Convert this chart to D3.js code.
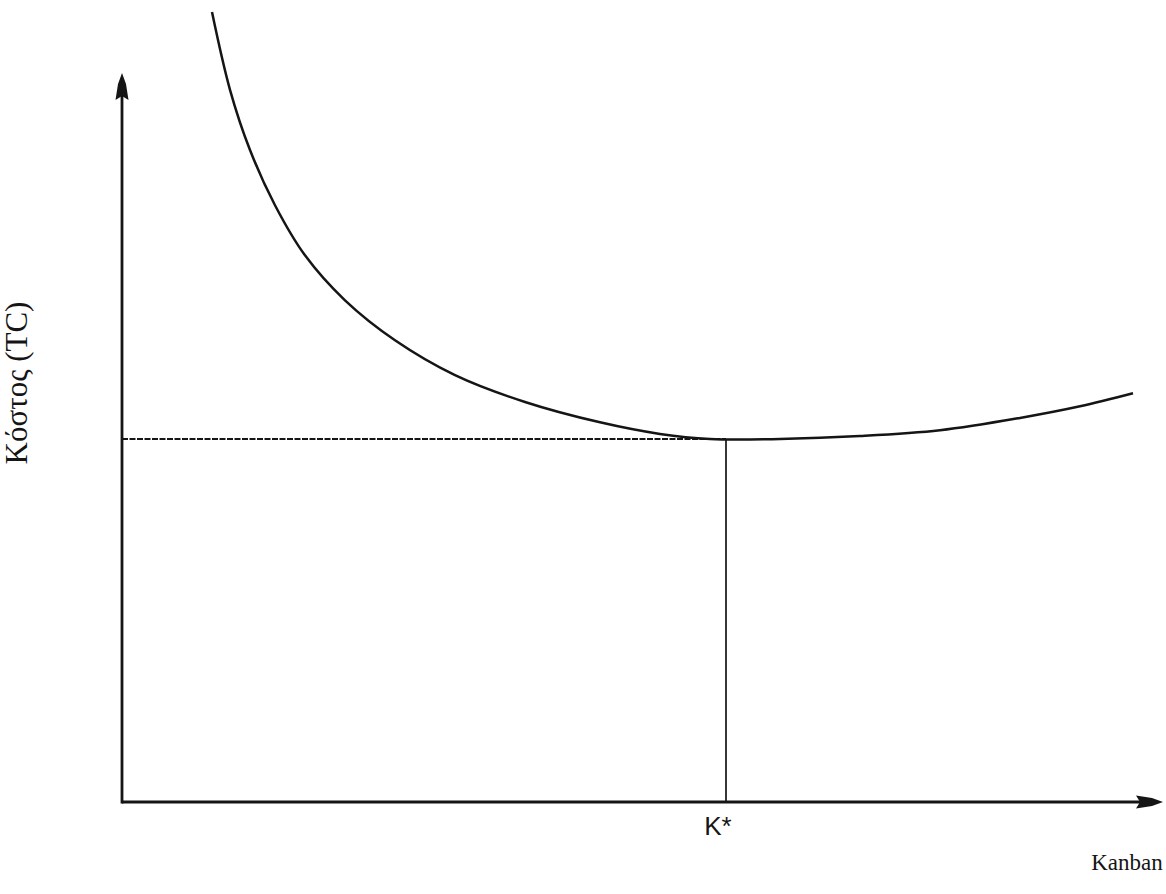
<!DOCTYPE html>
<html>
<head>
<meta charset="utf-8">
<script src="https://cdn.jsdelivr.net/npm/d3@7"></script>
<style>
  body { margin: 0; background: #fff; }
  svg { display: block; }
</style>
</head>
<body>
<svg id="chart" width="1166" height="894"></svg>
<script>
// curve points (kanban, cost)
var kanban = [9.0, 10.8, 12.8, 15.3, 18.3, 22.3, 27.3, 33.3, 40.3, 47.8, 53.8, 58.8, 65.8, 73.8, 81.8, 89.8, 95.8, 101.1]
var cost = [108.8, 98.1, 89.8, 82.2, 75.3, 69.1, 63.6, 58.8, 55.1, 52.3, 50.7, 50.0, 50.0, 50.4, 51.2, 52.9, 54.5, 56.3]
var kStar = 60.4
var minCost = 50

var svg = d3.select("#chart")
var ink = "#151515"

var x = d3.scaleLinear().domain([0, 100]).range([122, 1122])
var y = d3.scaleLinear().domain([0, 100]).range([802, 76])

var xEnd = 1163, yEnd = 73

// dashed guide at the minimum cost
svg.append("line")
  .attr("x1", x(0)).attr("x2", x(kStar))
  .attr("y1", y(minCost)).attr("y2", y(minCost))
  .attr("stroke", ink).attr("stroke-width", 2)
  .attr("stroke-dasharray", "6,1.5")

// vertical at K*
svg.append("line")
  .attr("x1", x(kStar)).attr("x2", x(kStar))
  .attr("y1", y(minCost)).attr("y2", y(0))
  .attr("stroke", ink).attr("stroke-width", 1.7)

// cost curve
var line = d3.line()
  .x(function(d, i) { return x(kanban[i]) })
  .y(function(d) { return y(d) })
  .curve(d3.curveCatmullRom.alpha(0.5))

svg.append("path")
  .attr("d", line(cost))
  .attr("fill", "none")
  .attr("stroke", ink)
  .attr("stroke-width", 2.5)

// axes
svg.append("line")
  .attr("x1", x(0)).attr("x2", xEnd - 20)
  .attr("y1", y(0)).attr("y2", y(0))
  .attr("stroke", ink).attr("stroke-width", 2.8)
svg.append("line")
  .attr("x1", x(0)).attr("x2", x(0))
  .attr("y1", y(0) + 1.4).attr("y2", yEnd + 20)
  .attr("stroke", ink).attr("stroke-width", 2.8)

// arrow heads
var head = "M0,0 L4,11 L6.5,27 L0,23 L-6.5,27 L-4,11 Z"
svg.append("path")
  .attr("d", head)
  .attr("transform", "translate(" + x(0) + "," + yEnd + ")")
  .attr("fill", ink)
svg.append("path")
  .attr("d", head)
  .attr("transform", "translate(" + xEnd + "," + y(0) + ") rotate(90)")
  .attr("fill", ink)

// labels
svg.append("text")
  .attr("x", 718).attr("y", 835)
  .attr("text-anchor", "middle")
  .style("font-family", "Arial, 'Liberation Sans', sans-serif")
  .style("font-size", "26px")
  .attr("fill", ink)
  .text("K*")

svg.append("text")
  .attr("x", 1127).attr("y", 870)
  .attr("text-anchor", "middle")
  .style("font-family", "'Times New Roman', 'Liberation Serif', serif")
  .style("font-size", "23px")
  .attr("fill", ink)
  .text("Kanban")

svg.append("text")
  .attr("transform", "translate(27,383) rotate(-90)")
  .attr("text-anchor", "middle")
  .style("font-family", "'Times New Roman', 'Liberation Serif', serif")
  .style("font-size", "31px")
  .attr("fill", ink)
  .text("Κόστος (TC)")
</script>
</body>
</html>
